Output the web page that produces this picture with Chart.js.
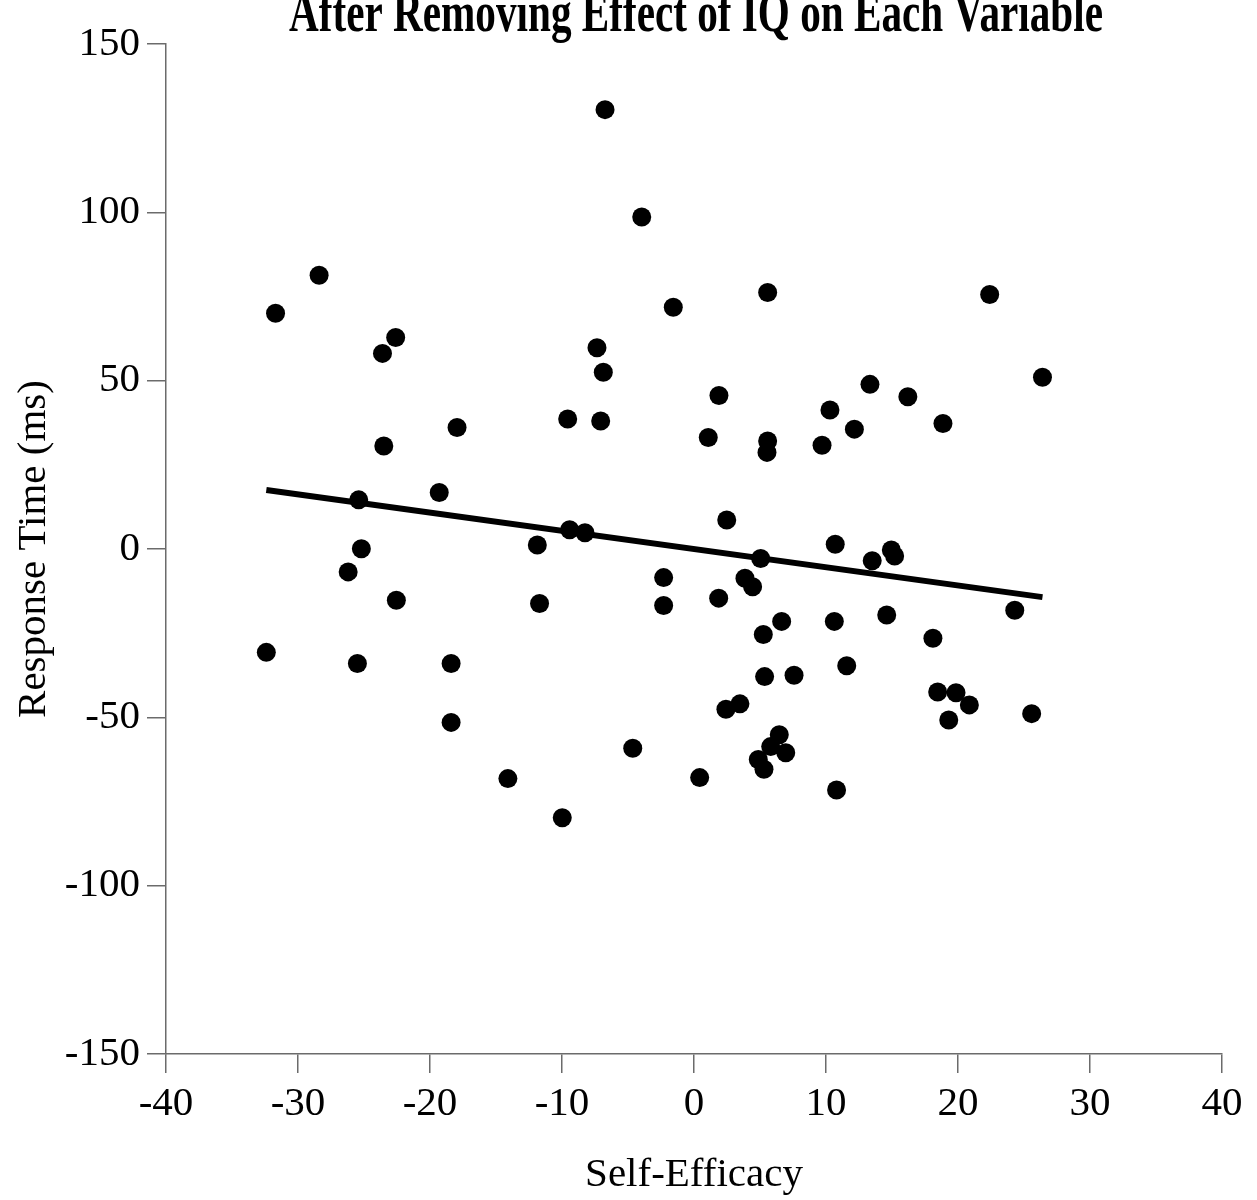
<!DOCTYPE html>
<html lang="en">
<head>
<meta charset="utf-8">
<title>Response Time vs Self-Efficacy</title>
<script src="https://cdn.jsdelivr.net/npm/chart.js@4.4.1/dist/chart.umd.min.js"></script>
<style>
  html, body { margin: 0; padding: 0; background: #fff; }
  #wrap { width: 1257px; height: 1200px; position: relative; }
</style>
</head>
<body>
<div id="wrap"><canvas id="chart"></canvas></div>
<script>
/* ─── Data ───────────────────────────────────────────────────────────────── */
const chartTitle = 'After Removing Effect of IQ on Each Variable';
const xTitle     = 'Self-Efficacy';
const yTitle     = 'Response Time (ms)';

const selfEfficacy = [
  -28.4, -31.7, -22.6, -23.6, -17.95, -23.5, -19.3, -25.4, -25.2, -26.2,
  -22.55, -32.4, -25.5, -18.4, -18.4, -6.74, -3.96, -1.57, -7.35, -6.87,
  1.89, -9.57, -7.07, 1.08, -9.42, -8.26, -11.87, 2.48, -2.3, -2.3,
  -11.7, 1.87, -4.64, -14.1, 0.43, -9.98, 5.58, 5.58, 5.53, 10.3,
  13.33, 16.2, 12.15, 9.7, 5.05, 10.7, 13.5, 14.95, 15.2, 3.86,
  4.44, 6.64, 5.25, 10.63, 14.6, 11.57, 5.35, 7.58, 3.48, 2.42,
  6.46, 5.81, 6.95, 4.87, 5.3, 10.8, 22.4, 26.4, 18.86, 24.3,
  18.1, 18.46, 19.85, 20.86, 19.3, 25.58
];
const responseTime = [
  81.3, 70.0, 62.8, 58.1, 36.1, 30.6, 16.8, 14.6, 0.1, -6.8,
  -15.2, -30.7, -34.0, -34.0, -51.5, 130.5, 98.6, 71.8, 59.8, 52.5,
  45.6, 38.6, 38.0, 33.1, 5.7, 4.8, 1.2, 8.6, -8.5, -16.8,
  -16.2, -14.6, -59.2, -68.2, -67.9, -79.8, 76.2, 32.1, 28.7, 41.3,
  48.9, 45.2, 35.6, 30.8, -2.8, 1.4, -3.5, -0.3, -2.1, -8.7,
  -11.2, -21.5, -25.4, -21.5, -19.6, -34.7, -37.9, -37.5, -46.0, -47.6,
  -55.2, -58.7, -60.5, -62.5, -65.4, -71.6, 75.6, 51.0, 37.3, -18.2,
  -26.5, -42.5, -42.7, -46.3, -50.8, -48.9
];

// regression line end points
const fitX = [-32.4, 26.4];
const fitY = [17.5, -14.3];

const xTicks = [-40, -30, -20, -10, 0, 10, 20, 30, 40];
const yTicks = [-150, -100, -50, 0, 50, 100, 150];

/* ─── Style ──────────────────────────────────────────────────────────────── */
const SERIF     = '"Liberation Serif", "Times New Roman", serif';
const AXIS_GREY = '#6b6b6b';

/* ─── Title plugin (condensed bold, clipped at the top like the original) ── */
const squeezedTitle = {
  id: 'squeezedTitle',
  afterDraw(chart) {
    const { ctx, chartArea } = chart;
    ctx.save();
    ctx.font = `bold 58px ${SERIF}`;
    ctx.fillStyle = '#000';
    ctx.textAlign = 'center';
    ctx.textBaseline = 'alphabetic';
    ctx.translate((chartArea.left + chartArea.right) / 2 + 2, 31);
    ctx.scale(0.71, 1);
    ctx.fillText(chartTitle, 0, 0);
    ctx.restore();
  }
};

/* ─── Chart ──────────────────────────────────────────────────────────────── */
const points = selfEfficacy.map((x, i) => ({ x, y: responseTime[i] }));
const fit    = fitX.map((x, i) => ({ x, y: fitY[i] }));

function axis(min, max, ticks, title, fitFn, titlePadding) {
  return {
    type: 'linear',
    min, max,
    afterBuildTicks: s => { s.ticks = ticks.map(v => ({ value: v })); },
    afterFit: fitFn,
    grid: {
      drawOnChartArea: false,
      drawTicks: true,
      tickLength: 19,
      color: AXIS_GREY,
      lineWidth: 1.5
    },
    border: { display: true, color: AXIS_GREY, width: 1.5 },
    ticks: {
      color: '#000',
      padding: 7,
      font: { family: SERIF, size: 41 },
      callback: v => String(v)
    },
    title: {
      display: true,
      text: title,
      color: '#000',
      font: { family: SERIF, size: 41, lineHeight: 1.2 },
      padding: titlePadding
    }
  };
}

new Chart(document.getElementById('chart'), {
  type: 'scatter',
  data: {
    datasets: [
      {
        label: 'Fit',
        type: 'line',
        data: fit,
        borderColor: '#000',
        borderWidth: 6,
        borderCapStyle: 'butt',
        pointRadius: 0,
        fill: false,
        order: 2
      },
      {
        label: 'Participants',
        data: points,
        backgroundColor: '#000',
        borderWidth: 0,
        pointRadius: 9.5,
        pointHoverRadius: 9.5,
        order: 1
      }
    ]
  },
  options: {
    responsive: true,
    maintainAspectRatio: false,
    animation: false,
    layout: { padding: { top: 44, right: 35, bottom: 0, left: 0 } },
    plugins: {
      legend: { display: false },
      title: { display: false },
      tooltip: { enabled: false }
    },
    scales: {
      x: axis(-40, 40, xTicks, xTitle, s => { s.height = 146; }, { top: 0, bottom: 0 }),
      y: axis(-150, 150, yTicks, yTitle, s => { s.width = 166; }, { top: 10, bottom: 0 })
    }
  },
  plugins: [squeezedTitle]
});
</script>
</body>
</html>
